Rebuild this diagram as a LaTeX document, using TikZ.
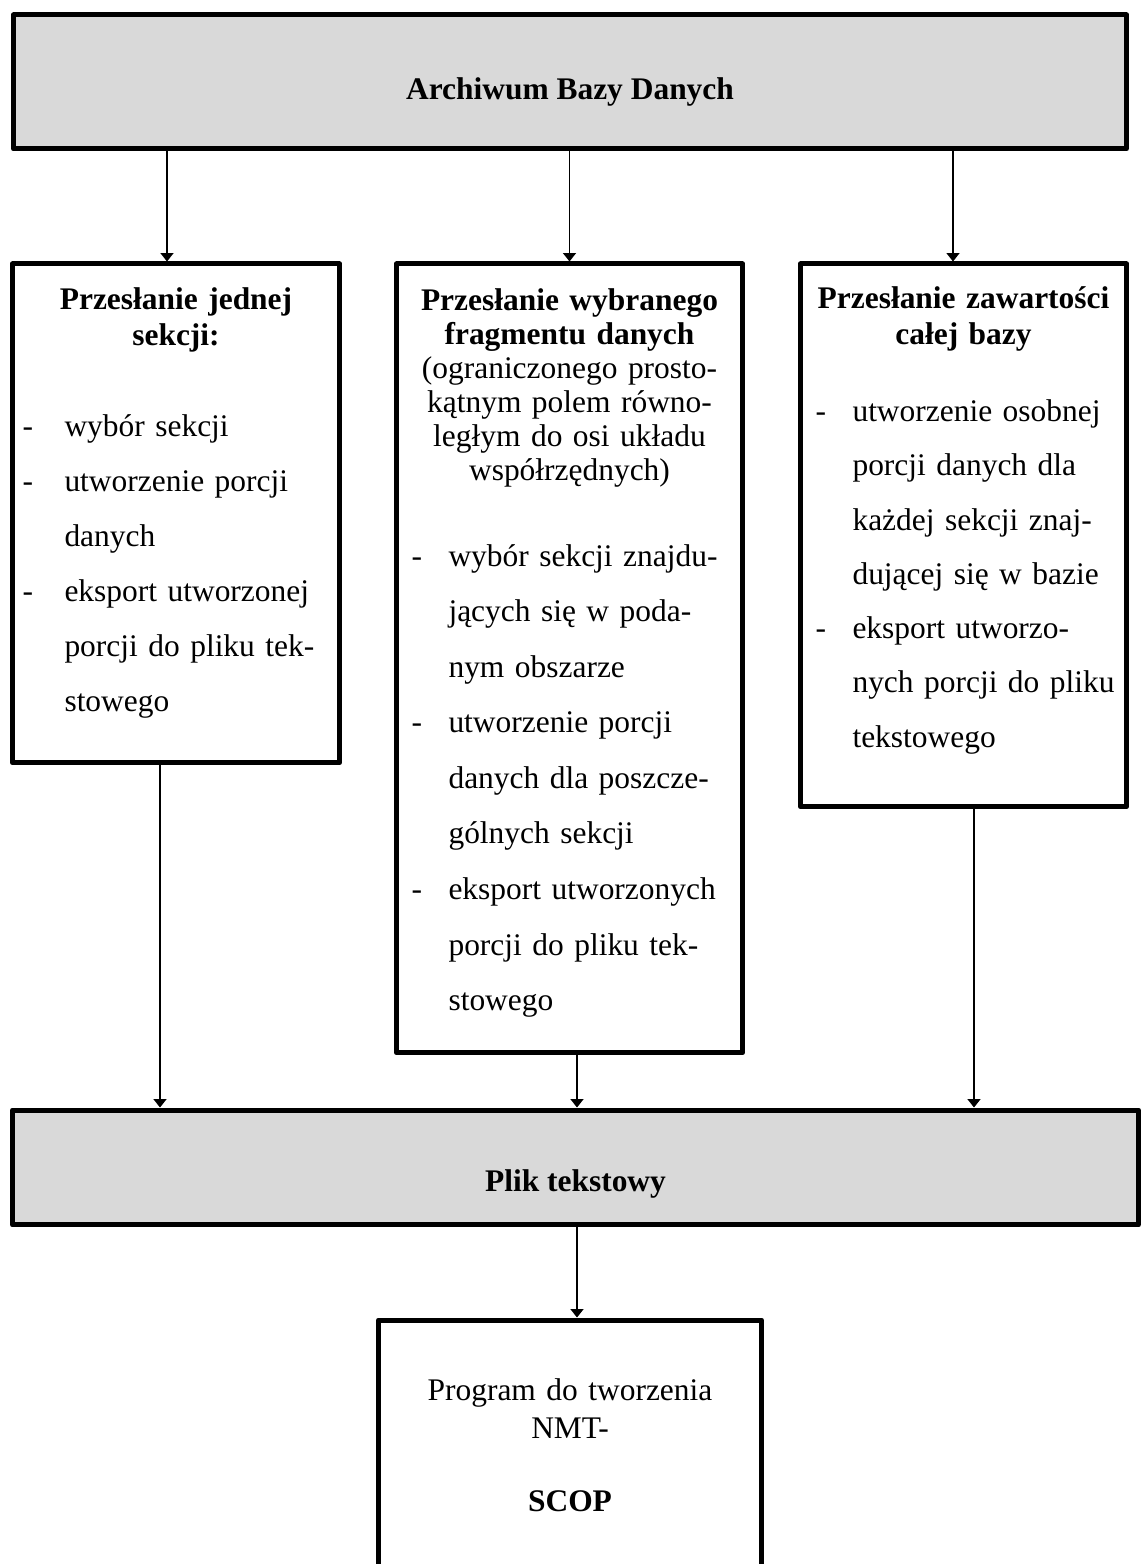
\documentclass[tikz,border=0pt]{standalone}
\usepackage{fontspec}
\setmainfont{Liberation Serif}
\usetikzlibrary{arrows.meta}
\definecolor{szary}{RGB}{217,217,217}
\newlength{\myslnik}
\setlength{\myslnik}{0.3cm}
\newcommand{\rozm}{\fontsize{17.9}{21.5}\selectfont}
\newcommand{\punkt}[1]{\par\noindent\makebox[1.04cm][l]{\hspace*{\myslnik}-}#1}
\newcommand{\dalej}[1]{\par\noindent\hspace*{1.04cm}#1}

\begin{document}
\begin{tikzpicture}[x=0.02cm, y=-0.02cm, font=\rozm, line join=round, >={Triangle[width=0.26cm,length=0.17cm]},
  ramka/.style={draw, line width=0.1cm, fill=white, inner sep=0pt, anchor=north},
  szara/.style={ramka, fill=szary},
  strz/.style={->, line width=0.95pt}]
\useasboundingbox (0,0) rectangle (1141,1564);

\node[szara, minimum width=22.26cm, text height=1.69cm, text depth=0.99cm, font=\rozm\bfseries] (archiwum) at (570,12.5) {Archiwum Bazy Danych};

\node[ramka, text width=6.54cm, text height=0.91cm, text depth=9.07cm] (jedna) at (176,261.5) {%
  \setlength{\myslnik}{0.2cm}%
  {\bfseries\baselineskip=0.72cm\relax\centering Przesłanie jednej\\sekcji:\par}
  \vspace{0.72cm}\baselineskip=1.1cm\relax
  \punkt{wybór sekcji}
  \punkt{utworzenie porcji}
  \dalej{danych}
  \punkt{eksport utworzonej}
  \dalej{porcji do pliku tek-}
  \dalej{stowego}\par};

\node[ramka, text width=6.92cm, text height=0.93cm, text depth=14.85cm] (wybrany) at (569.5,261.5) {%
  {\centering\baselineskip=0.68cm\relax
  {\bfseries Przesłanie wybranego\\fragmentu danych}\\
  (ograniczonego prosto-\\kątnym polem równo-\\ległym do osi układu\\współrzędnych)\par}
  \vspace{0.6cm}\baselineskip=1.112cm\relax
  \punkt{wybór sekcji znajdu-}
  \dalej{jących się w poda-}
  \dalej{nym obszarze}
  \punkt{utworzenie porcji}
  \dalej{danych dla poszcze-}
  \dalej{gólnych sekcji}
  \punkt{eksport utworzonych}
  \dalej{porcji do pliku tek-}
  \dalej{stowego}\par};

\node[ramka, text width=6.52cm, text height=0.89cm, text depth=9.97cm] (cala) at (963.5,261.5) {%
  {\bfseries\baselineskip=0.72cm\relax\centering Przesłanie zawartości\\całej bazy\par}
  \vspace{0.454cm}\baselineskip=1.086cm\relax
  \punkt{utworzenie osobnej}
  \dalej{porcji danych dla}
  \dalej{każdej sekcji znaj-}
  \dalej{dującej się w bazie}
  \punkt{eksport utworzo-}
  \dalej{nych porcji do pliku}
  \dalej{tekstowego}\par};

\node[szara, minimum width=22.52cm, text height=1.63cm, text depth=0.67cm, font=\rozm\bfseries] (plik) at (575.5,1107.5) {Plik tekstowy};

\node[ramka, text width=7.66cm, text height=1.61cm, text depth=4.2cm] (program) at (570,1317.5) {%
  \centering\baselineskip=0.76cm\relax
  Program do tworzenia\\NMT-\\[0.7cm]\textbf{SCOP}\par};

\foreach \n/\g/\d in {jedna/-0.18/-0.32, wybrany/0/0.15, cala/-0.21/0.21}{
  \coordinate (g\n) at ([xshift=\g cm]\n.north);
  \coordinate (d\n) at ([xshift=\d cm]\n.south);
  \draw[strz] (g\n |- archiwum.south) -- (g\n);
  \draw[strz] (d\n) -- (d\n |- plik.north);
}
\coordinate (gprogram) at ([xshift=0.14cm]program.north);
\draw[strz] (gprogram |- plik.south) -- (gprogram);
\end{tikzpicture}
\end{document}
